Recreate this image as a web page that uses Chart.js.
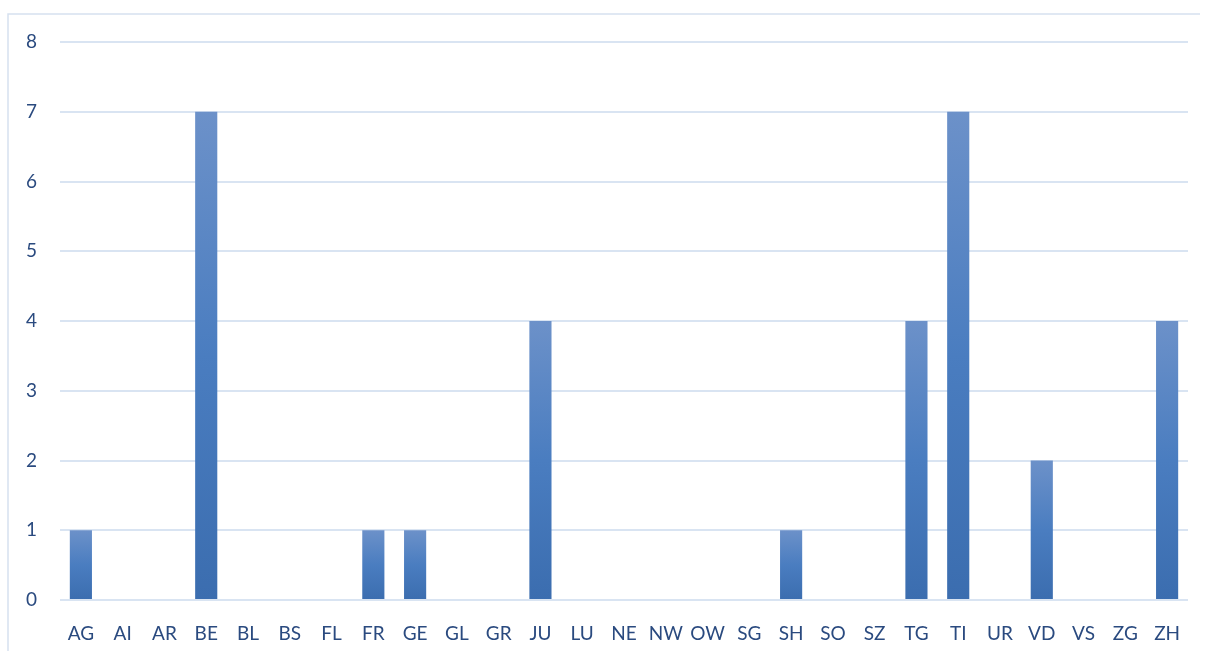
<!DOCTYPE html>
<html><head><meta charset="utf-8">
<script src="https://cdn.jsdelivr.net/npm/chart.js@4"></script>
<style>html,body{margin:0;padding:0;background:#fff}#wrap{width:1207px;height:651px;position:relative}</style>
</head><body><div id="wrap"><canvas id="c" width="1207" height="651"></canvas></div>
<script>
const categories = ["AG","AI","AR","BE","BL","BS","FL","FR","GE","GL","GR","JU","LU","NE","NW","OW","SG","SH","SO","SZ","TG","TI","UR","VD","VS","ZG","ZH"];
const values = [1,0,0,7,0,0,0,1,1,0,0,4,0,0,0,0,0,1,0,0,4,7,0,2,0,0,4];
const yTicks = [0,1,2,3,4,5,6,7,8];

const framePlugin = {
  id:'frame',
  beforeDraw(chart){
    const ctx = chart.ctx;
    ctx.save();
    ctx.strokeStyle = '#d6e1ef';
    ctx.lineWidth = 1.5;
    ctx.beginPath();
    ctx.moveTo(8, 660);
    ctx.lineTo(8, 14);
    ctx.lineTo(1200, 14);
    ctx.stroke();
    ctx.restore();
  }
};

function barGrad(context){
  const chart = context.chart;
  const ys = chart.scales.y;
  if(!ys || !chart.chartArea) return '#4a7bbf';
  const v = context.raw;
  const top = ys.getPixelForValue(v), bot = ys.getPixelForValue(0);
  if (!(bot > top)) return '#4a7bbf';
  const g = chart.ctx.createLinearGradient(0, top, 0, bot);
  g.addColorStop(0, '#6c91c9');
  g.addColorStop(0.5, '#4a7dc0');
  g.addColorStop(1, '#3b6daf');
  return g;
}

new Chart(document.getElementById('c'), {
  type:'bar',
  data:{labels:categories, datasets:[{data:values, backgroundColor:barGrad, borderWidth:0, categoryPercentage:1, barPercentage:0.53}]},
  plugins:[framePlugin],
  options:{
    responsive:false, animation:false,
    layout:{padding:{top:42,right:19,left:0,bottom:0}},
    plugins:{legend:{display:false}, tooltip:{enabled:false}},
    scales:{
      x:{
        grid:{display:false, drawTicks:false}, border:{display:false},
        ticks:{color:'#2a4a7f', font:{family:'Lato', size:19}, padding:22, maxRotation:0, autoSkip:false},
        afterFit(s){ s.height = 51; }
      },
      y:{
        min:0, max:8,
        afterBuildTicks(s){ s.ticks = yTicks.map(v=>({value:v})); },
        grid:{color:'#d9e4f2', lineWidth:2, drawTicks:false}, border:{display:false},
        ticks:{color:'#2a4a7f', font:{family:'Lato', size:19}, padding:23},
        afterFit(s){ s.width = 60; }
      }
    }
  }
});
</script></body></html>
